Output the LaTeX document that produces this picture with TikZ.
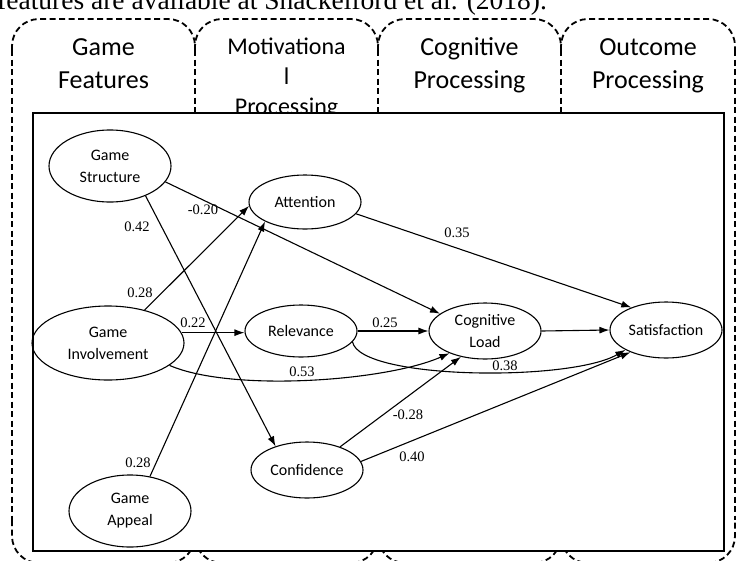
\documentclass[tikz,border=0pt]{standalone}
\usepackage{fontspec}
\setmainfont{Liberation Serif}
\newfontfamily\calfont{Carlito}
\usetikzlibrary{arrows.meta,shapes.geometric}
\begin{document}
\begin{tikzpicture}[x=1pt,y=-1pt,
  ell/.style={draw, ellipse, line width=1.1pt, inner sep=0pt, align=center,
    font=\calfont\fontsize{16}{22}\selectfont},
  arr/.style={line width=1.1pt, -{Latex[length=10pt,width=7pt]}},
  lbl/.style={font=\fontsize{14.5}{16}\selectfont, inner sep=0pt},
  tabcap/.style={dash pattern=on 6pt off 3.5pt, line width=1.8pt, rounded corners=27pt},
  tabline/.style={dash pattern=on 6pt off 3.5pt, line width=1.8pt},
  head/.style={font=\calfont\fontsize{26}{33}\selectfont, anchor=base, inner sep=0pt},
  headsmall/.style={font=\calfont\fontsize{24}{30}\selectfont, anchor=base, inner sep=0pt},
]
\useasboundingbox (0,0) rectangle (736,560);
\clip (0,0) rectangle (736,560);

% cut-off line of text above
\node[anchor=base west, inner sep=0pt, font=\fontsize{27.5}{30}\selectfont] (cap) at (-3,9)
  {features are available at Shackelford et al. (2018).};

% dashed tabs: top caps
\draw[tabcap] (12,50) -- (12,19) -- (195,19) -- (195,50);
\draw[tabcap] (195,50) -- (195,19) -- (378,19) -- (378,50);
\draw[tabcap] (378,50) -- (378,19) -- (561,19) -- (561,50);
\draw[tabcap] (561,50) -- (561,19) -- (735,19) -- (735,50);
% bottom caps
\draw[tabcap] (12,520) -- (12,563) -- (195,563) -- (195,520);
\draw[tabcap] (195,520) -- (195,563) -- (378,563) -- (378,520);
\draw[tabcap] (378,520) -- (378,563) -- (561,563) -- (561,520);
\draw[tabcap] (561,520) -- (561,563) -- (735,563) -- (735,520);
% verticals
\draw[tabline] (12,50) -- (12,520);
\draw[tabline] (735,50) -- (735,520);
\draw[tabline] (195,50) -- (195,112);
\draw[tabline] (378,50) -- (378,112);
\draw[tabline] (561,50) -- (561,112);

% headers
\node[head] (h1a) at (103.5,55) {Game};
\node[head] (h1b) at (103.5,88) {Features};
\node[headsmall] (h2a) at (286.5,54) {Motivationa};
\node[headsmall] (h2b) at (286.5,84) {l};
\node[headsmall] (h2c) at (286.5,114) {Processing};
\node[head] (h3a) at (469.5,55) {Cognitive};
\node[head] (h3b) at (469.5,88) {Processing};
\node[head] (h4a) at (648,55) {Outcome};
\node[head] (h4b) at (648,88) {Processing};

% main frame
\node[draw, fill=white, line width=2pt, inner sep=0pt, anchor=north west,
  minimum width=691pt, minimum height=438pt] (frame) at (32,112) {};

% constructs
\node[ell, minimum width=122pt, minimum height=72pt] (GS) at (110,166) {Game\\Structure};
\node[ell, minimum width=112pt, minimum height=54pt] (Att) at (305,202) {Attention};
\node[ell, minimum width=152pt, minimum height=74pt] (GI) at (108,343) {Game\\Involvement};
\node[ell, minimum width=112pt, minimum height=52pt] (Rel) at (301,331) {Relevance};
\node[ell, minimum width=112pt, minimum height=56pt] (CL) at (485,331) {Cognitive\\Load};
\node[ell, minimum width=112pt, minimum height=56pt] (Sat) at (666,330) {Satisfaction};
\node[ell, minimum width=112pt, minimum height=56pt] (Conf) at (307,470) {Confidence};
\node[ell, minimum width=122pt, minimum height=72pt] (GA) at (130,511) {Game\\Appeal};

% paths
\draw[arr] (GS.-16) -- (CL.159);
\draw[arr] (GS.-40) -- (Conf.143);
\draw[arr] (GI.42) -- (Att.184);
\draw[arr] (GA.60) -- (Att.206);
\draw[arr] (GI.8) -- (GI.8 -| Rel.west);
\draw[arr] (Rel.east) -- (CL.west);
\draw[arr] (CL.east) -- (Sat.west);
\draw[arr] (Att.-13) -- (Sat.147);
\draw[arr] (GI.-20) .. controls +(62,27) and +(-63,28) .. (CL.212);
\draw[arr] (Rel.-12) .. controls +(8,38) and +(-55,32) .. (Sat.206);
\draw[arr] (Conf.35) -- (CL.227);
\draw[arr] (Conf.9) -- (Sat.212);

% coefficients
\node[lbl] (c1) at (203,210) {-0.20};
\node[lbl] (c2) at (137,227) {0.42};
\node[lbl] (c3) at (140,293) {0.28};
\node[lbl] (c4) at (193,323) {0.22};
\node[lbl] (c5) at (385,323) {0.25};
\node[lbl] (c6) at (457,233) {0.35};
\node[lbl] (c7) at (302,372) {0.53};
\node[lbl] (c8) at (505,366) {0.38};
\node[lbl] (c9) at (408,415) {-0.28};
\node[lbl] (c10) at (412,457) {0.40};
\node[lbl] (c11) at (138,463) {0.28};
\end{tikzpicture}
\end{document}
